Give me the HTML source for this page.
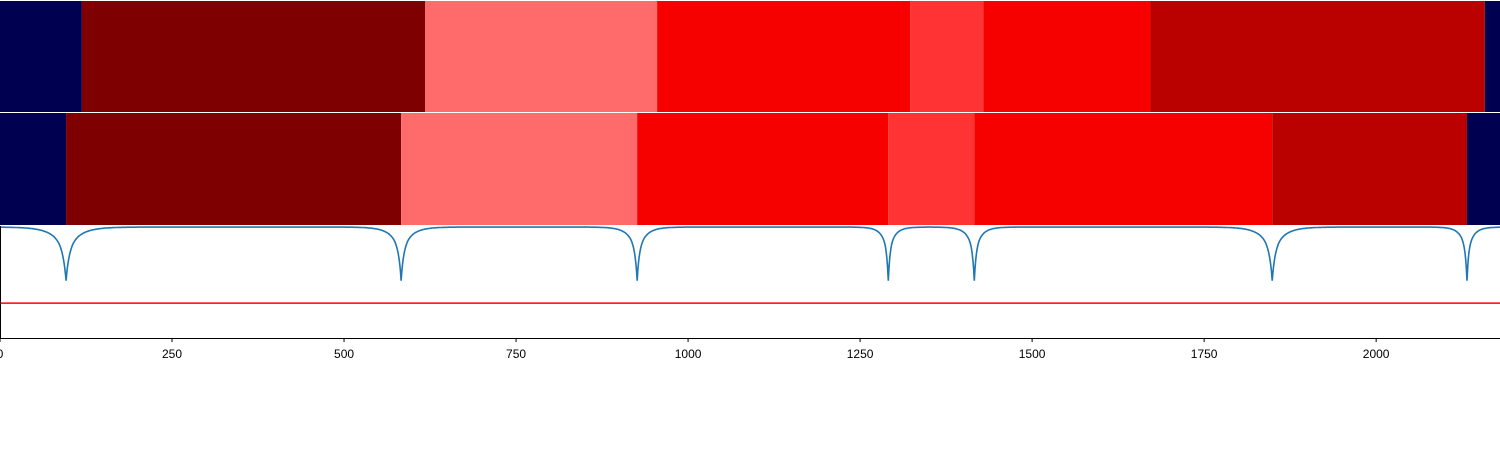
<!DOCTYPE html>
<html><head><meta charset="utf-8"><style>
body{margin:0;background:#fff;font-family:"Liberation Sans","DejaVu Sans",sans-serif}
svg{display:block}
</style></head><body>
<svg id="chart" width="1500" height="450"></svg>
<script>
const xMax = 2180;
const topBreaks = [0, 119, 618, 955, 1323, 1429, 1672, 2158, 2180];
const topColors = ["#000050","#7f0000","#ff6a6a","#f70000","#ff3333","#f70000","#bb0000","#000050"];
const midBreaks = [0, 96, 583, 926, 1291, 1416, 1849, 2132, 2180];
const midColors = ["#000050","#7f0000","#ff6a6a","#f70000","#ff3333","#f70000","#bb0000","#000050"];
const dipCenters = [96, 583, 926, 1291, 1416, 1849, 2132];
const dipWidths = [18, 14, 12, 9, 10, 16, 9];
const threshold = -1.42;
const xTicks = [0, 250, 500, 750, 1000, 1250, 1500, 1750, 2000];

const NS = "http://www.w3.org/2000/svg";
const svg = document.getElementById('chart');
const xs = v => v / xMax * 1500;
const yTop = 226, yBot = 338, vMax = 0.02, vMin = -2.07;
const ys = v => yTop + (vMax - v) / (vMax - vMin) * (yBot - yTop);
function mk(tag, attrs){const e=document.createElementNS(NS,tag);for(const k in attrs)e.setAttribute(k,attrs[k]);svg.appendChild(e);return e;}

function band(breaks, colors, y0, h, nm){
  for(let i=0;i<colors.length;i++){
    const r = mk('rect',{x:xs(breaks[i]),y:y0,width:xs(breaks[i+1])-xs(breaks[i]),height:h,fill:colors[i]});
    
    
  }
}
band(topBreaks, topColors, 1, 111, 'top-band');
band(midBreaks, midColors, 113, 112, 'middle-band');

let pts = [];
for(let t=0;t<=xMax;t+=1){
  let v=0;
  dipCenters.forEach((c,i)=>{const d=Math.abs(t-c), w=dipWidths[i];
    v -= 0.55*Math.exp(-d/(w*0.25)) + 0.45*Math.exp(-d/w);});
  pts.push(xs(t).toFixed(1)+','+ys(Math.max(v,-1.02)).toFixed(1));
}
const line = mk('polyline',{points:pts.join(' '),fill:'none',stroke:'#1f77b4','stroke-width':1.6});


const th = mk('line',{x1:0,x2:1500,y1:ys(threshold),y2:ys(threshold),stroke:'#ff0000','stroke-width':1.5});


const sp = mk('line',{x1:0.5,x2:0.5,y1:226,y2:338,stroke:'#000','stroke-width':1});


const ax = mk('line',{x1:0,x2:1500,y1:338.5,y2:338.5,stroke:'#000','stroke-width':1});


xTicks.forEach(t=>{
  const tk = mk('line',{x1:xs(t),x2:xs(t),y1:338,y2:342,stroke:'#000','stroke-width':1});
  
  
  const tx = mk('text',{x:xs(t),y:358,'font-size':12,'text-anchor':'middle',fill:'#000'});
  tx.textContent = t;
  
  
});
</script>
</body></html>
